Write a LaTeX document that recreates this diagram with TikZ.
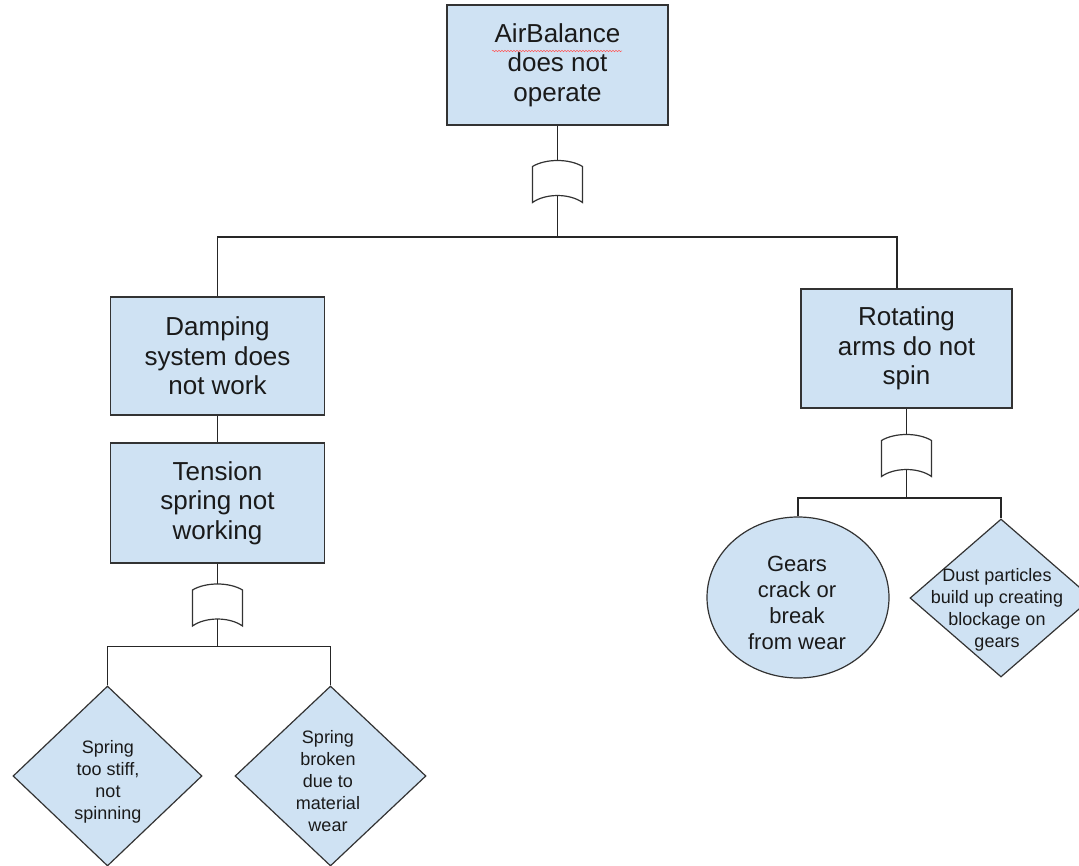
\documentclass[tikz,border=0pt]{standalone}
\usepackage{fontspec}
\setmainfont{Liberation Sans}
\usetikzlibrary{shapes.geometric,decorations.pathmorphing}
\definecolor{fillblue}{HTML}{CFE2F3}
\definecolor{edgegray}{HTML}{333333}
\definecolor{ink}{HTML}{1A1A1A}
\tikzset{
  eventbox/.style={draw=edgegray, line width=1.4pt, fill=fillblue, inner sep=0pt, align=center, text=ink, font=\fontsize{26}{29.5}\selectfont},
  basicev/.style={ellipse, draw=edgegray, line width=1.2pt, fill=fillblue, inner sep=0pt},
  undev/.style={diamond, draw=edgegray, line width=1.2pt, fill=fillblue, inner sep=0pt},
  smalltxt/.style={align=center, text=ink, font=\fontsize{18}{22}\selectfont, inner sep=0pt},
  midtxt/.style={align=center, text=ink, font=\fontsize{22}{26}\selectfont, inner sep=0pt},
  gatebox/.style={minimum width=50pt, minimum height=35pt, inner sep=0pt},
  gateline/.style={draw=edgegray, line width=1.2pt, fill=white},
  wire/.style={draw=black!85, line width=1.2pt},
}
\newcommand{\orgatenode}[2]{%
  \node[gatebox] (#1) at #2 {};
  \draw[gateline] ([shift={(-25,24.5)}]#1.center) -- ([shift={(-25,-11.5)}]#1.center)
    .. controls ([shift={(-12,-19.5)}]#1.center) and ([shift={(12,-19.5)}]#1.center) .. ([shift={(25,-11.5)}]#1.center)
    -- ([shift={(25,24.5)}]#1.center)
    .. controls ([shift={(12,15.2)}]#1.center) and ([shift={(-12,15.2)}]#1.center) .. cycle;
}
\begin{document}
\begin{tikzpicture}[x=1pt,y=-1pt]
\useasboundingbox (0,0) rectangle (1079,866);
\clip (0,0) rectangle (1079,866);
\fill[white] (0,0) rectangle (1079,866);

% events
\node[eventbox, minimum width=221pt, minimum height=120pt] (top) at (557.5,65) {AirBalance\\does not\\operate};
\draw[red!65, line width=0.5pt, decorate, decoration={snake, amplitude=0.7pt, segment length=3pt}] (492,51) -- (622,51);
\node[eventbox, minimum width=214pt, minimum height=118pt] (damp) at (217.5,356) {Damping\\system does\\not work};
\node[eventbox, minimum width=214pt, minimum height=120pt] (tens) at (217.5,503) {Tension\\spring not\\working};
\node[eventbox, minimum width=211pt, minimum height=119pt] (rot) at (906.5,348.5) {Rotating\\arms do not\\spin};

% gates
\orgatenode{g1}{(557.5,178)}
\orgatenode{g2}{(217.5,601.5)}
\orgatenode{g3}{(906.5,452)}

% basic / undeveloped events
\node[undev, minimum width=189pt, minimum height=180pt] (d1) at (107.5,776) {};
\node[smalltxt] (d1t) at (108,782) {Spring\\too stiff,\\not\\spinning};
\node[undev, minimum width=191pt, minimum height=180pt] (d2) at (330.5,776) {};
\node[smalltxt] (d2t) at (328,781) {Spring\\broken\\due to\\material\\wear};
\node[basicev, minimum width=182pt, minimum height=161pt] (ell) at (798,597.5) {};
\node[midtxt] (ellt) at (797,603) {Gears\\crack or\\break\\from wear};
\node[undev, minimum width=182pt, minimum height=158pt] (d3) at (1001,598) {};
\node[smalltxt] (d3t) at (997,610) {Dust particles\\build up creating\\blockage on\\gears};

% connectors
\coordinate (j1) at (557.5,237);
\coordinate (j1r) at (897,237);
\draw[wire] (top.south) -- (g1.north);
\draw[wire] (g1.south) -- (j1);
\draw[wire] (damp.north) |- (j1r) -- (j1r |- rot.north);
\draw[wire] (damp.south) -- (tens.north);
\draw[wire] (tens.south) -- (g2.north);
\coordinate (j2) at (217.5,646.5);
\draw[wire] (g2.south) -- (j2);
\draw[wire] (d1.north) |- (j2) -| (d2.north);
\draw[wire] (rot.south) -- (g3.north);
\coordinate (j3) at (906.5,498);
\draw[wire] (g3.south) -- (j3);
\draw[wire] (ell.north) |- (j3) -| (d3.north);
\end{tikzpicture}
\end{document}
